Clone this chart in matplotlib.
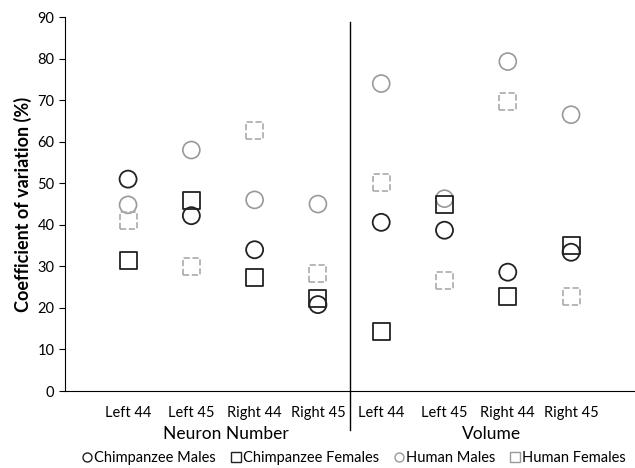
import matplotlib.pyplot as plt
from matplotlib.lines import Line2D
import matplotlib.transforms as mtransforms

plt.rcParams['font.family'] = ['Lato', 'DejaVu Sans']

categories = ['Left 44', 'Left 45', 'Right 44', 'Right 45',
              'Left 44', 'Left 45', 'Right 44', 'Right 45']
groups = ['Neuron Number', 'Volume']

chimp_males = [51.0, 42.2, 34.0, 20.8, 40.6, 38.7, 28.6, 33.4]
chimp_females = [31.5, 45.8, 27.3, 22.3, 14.4, 44.8, 22.8, 35.0]
human_males = [44.8, 58.0, 46.0, 45.0, 74.0, 46.3, 79.3, 66.5]
human_females = [41.0, 30.0, 62.8, 28.3, 50.2, 26.7, 69.7, 22.7]

fig = plt.figure(figsize=(6.35, 4.68), dpi=100)
ax = fig.add_axes([0.102, 0.1645, 0.897, 0.799])

x = list(range(1, len(categories) + 1))
ms = 150
ax.scatter(x, human_males, s=ms, marker='o', facecolors='none', edgecolors='#999999', linewidths=1.2, zorder=3)
ax.scatter(x, human_females, s=ms, marker='s', facecolors='none', edgecolors='#aaaaaa', linewidths=1.2,
           linestyles='--', zorder=3)
ax.scatter(x, chimp_females, s=ms, marker='s', facecolors='none', edgecolors='#222222', linewidths=1.3, zorder=4)
ax.scatter(x, chimp_males, s=ms, marker='o', facecolors='none', edgecolors='#222222', linewidths=1.3, zorder=4)

ax.set_xlim(0, 9)
ax.set_ylim(0, 90)
ax.set_yticks(range(0, 91, 10))
ax.set_xticks(x)
ax.set_xticklabels(categories, fontsize=10.5)
ax.tick_params(axis='x', length=0, pad=11)
ax.tick_params(axis='y', labelsize=10.5, length=4, direction='out')
for s in ['top', 'right']:
    ax.spines[s].set_visible(False)
ax.set_ylabel('Coefficient of variation (%)', fontsize=13, fontweight='bold', labelpad=4)

# divider between the two groups, running below the axis
trans = mtransforms.blended_transform_factory(ax.transData, ax.transAxes)
ax.add_line(Line2D([4.5, 4.5], [-0.104, 0.987], transform=trans, color='black', lw=1.0, clip_on=False))

ax.text(2.55, -0.115, groups[0], transform=trans, ha='center', va='center', fontsize=12.5)
ax.text(6.75, -0.115, groups[1], transform=trans, ha='center', va='center', fontsize=12.5)

handles = [
    Line2D([], [], marker='o', ls='none', mfc='none', mec='#222222', ms=6.5),
    Line2D([], [], marker='s', ls='none', mfc='none', mec='#222222', ms=6.5),
    Line2D([], [], marker='o', ls='none', mfc='none', mec='#999999', ms=6.5),
    Line2D([], [], marker='s', ls='none', mfc='none', mec='#999999', ms=6.5),
]
labels = ['Chimpanzee Males', 'Chimpanzee Females', 'Human Males', 'Human Females']
fig.legend(handles, labels, loc='center', bbox_to_anchor=(0.558, 0.022), ncol=4, frameon=False,
           fontsize=10.5, handletextpad=0.15, columnspacing=1.1, handlelength=0.6, borderpad=0)

fig.savefig('out.png', dpi=100)
